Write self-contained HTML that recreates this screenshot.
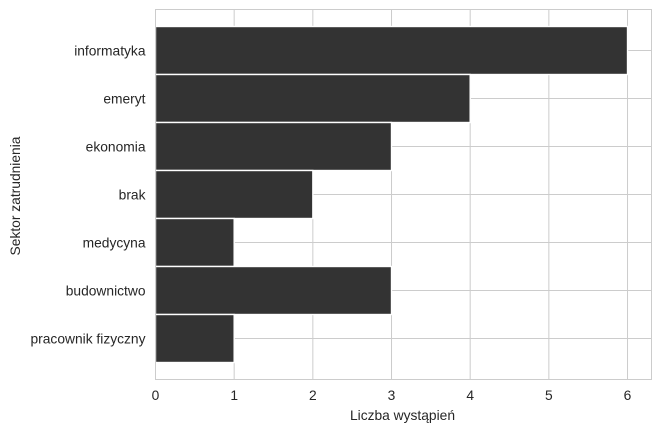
<!DOCTYPE html>
<html>
<head>
<meta charset="utf-8">
<style>
html,body{margin:0;padding:0;background:#fff;}
svg{display:block;}
text{font-family:"Liberation Sans",Arial,sans-serif;fill:#262626;font-size:13.8px;}
</style>
</head>
<body>
<svg id="chart" xmlns="http://www.w3.org/2000/svg" width="661" height="432" viewBox="0 0 661 432"></svg>
<script>
const categories = ["informatyka","emeryt","ekonomia","brak","medycyna","budownictwo","pracownik fizyczny"];
const counts = [6,4,3,2,1,3,1];
const xTicks = [0,1,2,3,4,5,6];
const xTitle = "Liczba wystąpień";
const yTitle = "Sektor zatrudnienia";

const svg = document.getElementById('chart');
const NS = 'http://www.w3.org/2000/svg';
const plotLeft = 155.5, plotRight = 651.5, plotTop = 9.5, plotBottom = 379.5;
const xUnit = 78.67;
const firstCenter = 50.5, bandStep = 48;
function xScale(v){ return plotLeft + v * xUnit; }
function yScale(i){ return firstCenter + i * bandStep; }
function make(tag, attrs, parent){
  const el = document.createElementNS(NS, tag);
  for (const k in attrs) el.setAttribute(k, attrs[k]);
  (parent || svg).appendChild(el);
  return el;
}
const grid = '#cccccc';

xTicks.forEach(function(t){
  const line = make('line', {x1:xScale(t), x2:xScale(t), y1:plotTop, y2:plotBottom, stroke:grid, 'stroke-width':1});
  
  
});
categories.forEach(function(c, i){
  const line = make('line', {x1:plotLeft, x2:plotRight, y1:yScale(i), y2:yScale(i), stroke:grid, 'stroke-width':1});
  
  
});

categories.forEach(function(c, i){
  const bar = make('rect', {x:xScale(0), y:yScale(i)-24, width:xScale(counts[i])-xScale(0), height:48, fill:'#333333', stroke:'#ffffff', 'stroke-width':1.4});
  
  
});

const frame = make('rect', {x:plotLeft, y:plotTop, width:plotRight-plotLeft, height:plotBottom-plotTop, fill:'none', stroke:grid, 'stroke-width':1});



categories.forEach(function(c, i){
  const label = make('text', {x:145.5, y:yScale(i)+5, 'text-anchor':'end'});
  label.textContent = c;
  
  
});
xTicks.forEach(function(t){
  const label = make('text', {x:xScale(t), y:400, 'text-anchor':'middle'});
  label.textContent = t;
  
  
});

const xLabel = make('text', {x:402.5, y:420, 'text-anchor':'middle'});
xLabel.textContent = xTitle;



const yLabel = make('text', {x:0, y:0, 'text-anchor':'middle', transform:'translate(20 196) rotate(-90)'});
yLabel.textContent = yTitle;


</script>
</body>
</html>
